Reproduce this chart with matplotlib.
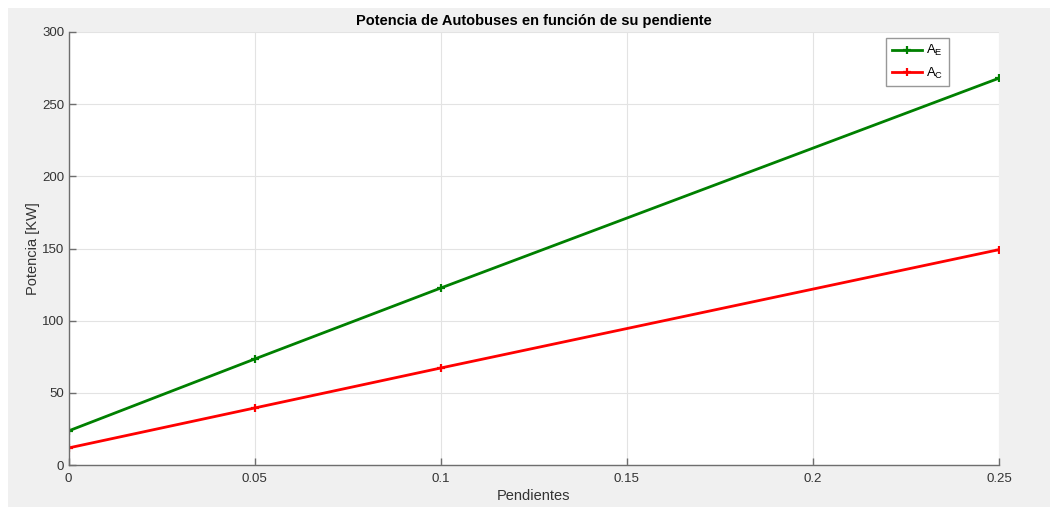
import numpy as np
import matplotlib
import matplotlib.pyplot as plt
from matplotlib.patches import Rectangle

matplotlib.use('Agg')
plt.rcParams['font.family'] = ['Liberation Sans', 'DejaVu Sans']
plt.rcParams['mathtext.default'] = 'regular'

pendientes = [0, 0.05, 0.1, 0.25]
potencia_ae = [23.6, 73.4, 122.6, 268.0]
potencia_ac = [11.8, 39.5, 67.2, 149.2]
xticks = [0, 0.05, 0.1, 0.15, 0.2, 0.25]
xtick_labels = ['0', '0.05', '0.1', '0.15', '0.2', '0.25']
yticks = [0, 50, 100, 150, 200, 250, 300]

W, H = 1051, 507
fig = plt.figure(figsize=(W / 100, H / 100), dpi=100)
fig.patch.set_facecolor('white')
fig.patches.append(Rectangle((8 / W, 0), 1 - 9 / W, 1 - 8 / H, transform=fig.transFigure,
                             facecolor='#f0f0f0', edgecolor='none', zorder=-10))

x0, x1, y0, y1 = 68.5, 999, 32, 465
ax = fig.add_axes([x0 / W, 1 - y1 / H, (x1 - x0) / W, (y1 - y0) / H])
ax.set_facecolor('white')

ax.plot(pendientes, potencia_ae, color='#008000', lw=2, marker='+', ms=6, mew=1.6, label='A$_E$')
ax.plot(pendientes, potencia_ac, color='#ff0000', lw=2, marker='+', ms=6, mew=1.6, label='A$_C$')

ax.set_xlim(0, 0.25)
ax.set_ylim(0, 300)
ax.set_xticks(xticks)
ax.set_xticklabels(xtick_labels)
ax.set_yticks(yticks)
ax.grid(True, color='#e3e3e3', lw=0.8)
ax.set_axisbelow(True)

for s in ['top', 'right']:
    ax.spines[s].set_visible(False)
for s in ['left', 'bottom']:
    ax.spines[s].set_color('#6e6e6e')
    ax.spines[s].set_linewidth(1)
ax.tick_params(direction='in', length=5, width=1, color='#6e6e6e', labelcolor='#333333',
               labelsize=9.5)
ax.tick_params(axis='y', pad=3)
ax.tick_params(axis='x', pad=6)

ax.set_title('Potencia de Autobuses en función de su pendiente', fontsize=10.5,
             fontweight='bold', color='black', pad=5)
ax.set_xlabel('Pendientes', fontsize=10.5, color='#333333', labelpad=3)
ax.set_ylabel('Potencia [KW]', fontsize=10.5, color='#333333')
ax.yaxis.set_label_coords((40 - x0) / (x1 - x0), 0.5)

leg = ax.legend(loc='upper right',
                bbox_to_anchor=((948.5 - x0) / (x1 - x0), 1 - (38 - y0) / (y1 - y0)),
                bbox_transform=ax.transAxes, fontsize=9.5, frameon=True, fancybox=False,
                handlelength=2.3, handletextpad=0.3, borderpad=0.4, labelspacing=0.55,
                borderaxespad=0)
leg.get_frame().set_edgecolor('#7f7f7f')
leg.get_frame().set_linewidth(1)

fig.savefig('out.png', dpi=100, facecolor=fig.get_facecolor())
